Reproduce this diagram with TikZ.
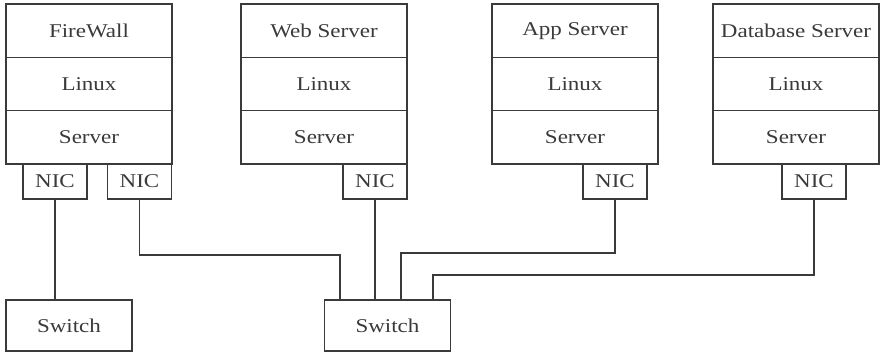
\documentclass[tikz,border=0pt]{standalone}
\usepackage{fontspec}
\setmainfont{Liberation Serif}[FakeStretch=1.18]
\usepackage{xcolor}
\usepackage{tikz}
\usetikzlibrary{positioning}

\definecolor{ink}{HTML}{3A3A3A}
\tikzset{
  layer/.style={draw=ink, text=ink, minimum width=83pt, minimum height=26.67pt, inner sep=0pt, outer sep=0pt},
  nic/.style={draw=ink, text=ink, minimum width=32pt, minimum height=17.5pt, inner sep=0pt, outer sep=0pt, anchor=north},
  switchbox/.style={draw=ink, text=ink, minimum width=63pt, minimum height=25.5pt, inner sep=0pt, outer sep=0pt}
}

\begin{document}
\begin{tikzpicture}[x=0.5pt, y=-0.5pt, line width=0.8pt, font=\fontsize{9.75}{11}\selectfont]
\useasboundingbox (0,0) rectangle (880,352);

\foreach \n/\x/\t in {fw/89/FireWall,web/324/Web Server,app/575/App Server,db/796/Database Server}
	{\node[layer](\n1) at (\x,30.67) {\t};
	\node[layer, below=0pt of \n1](\n2) {Linux};
	\node[layer, below=0pt of \n2](\n3) {Server};}

\node[nic](fwnic1) at (55,164) {NIC};
\node[nic](fwnic2) at (139.5,164) {NIC};
\node[nic](webnic) at (375,164) {NIC};
\node[nic](appnic) at (615,164) {NIC};
\node[nic](dbnic) at (814,164) {NIC};

\node[switchbox](sw1) at (69,325.5) {Switch};
\node[switchbox](sw2) at (387.5,325.5) {Switch};

\coordinate (j1) at (340,255);
\coordinate (j2) at (401,253);
\coordinate (j3) at (433,275);

\draw[ink] (fwnic1.south) -- (fwnic1.south |- sw1.north);
\draw[ink] (fwnic2.south) |- (j1) -- (j1 |- sw2.north);
\draw[ink] (webnic.south) -- (webnic.south |- sw2.north);
\draw[ink] (appnic.south) |- (j2) -- (j2 |- sw2.north);
\draw[ink] (dbnic.south) |- (j3) -- (j3 |- sw2.north);

\end{tikzpicture}
\end{document}
